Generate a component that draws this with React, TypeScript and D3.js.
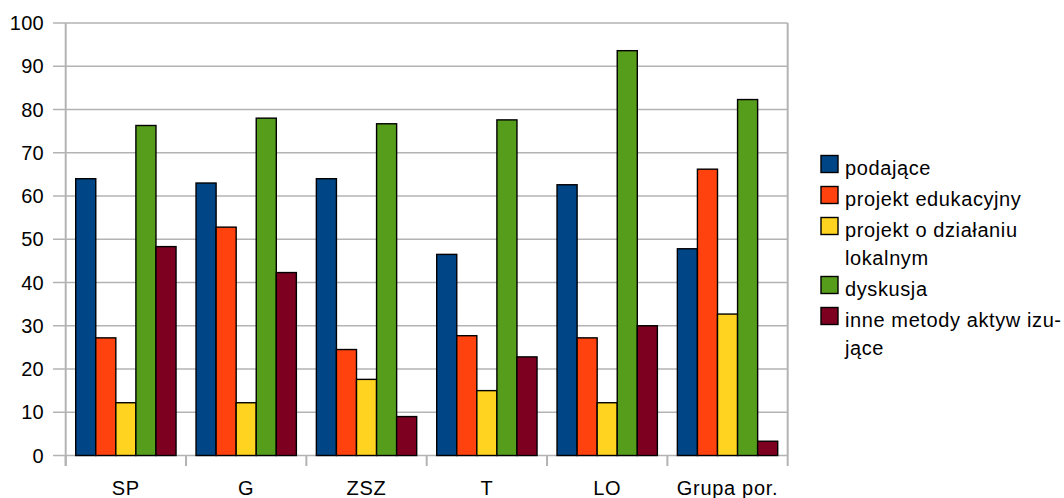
import React from "react";
import * as d3 from "d3";

const categories = ["SP", "G", "ZSZ", "T", "LO", "Grupa por."];
const seriesNames = [
  ["podające"],
  ["projekt edukacyjny"],
  ["projekt o działaniu", "lokalnym"],
  ["dyskusja"],
  ["inne metody aktyw izu-", "jące"],
];
const podajace = [64, 63, 64, 46.5, 62.6, 47.8];
const projektEdu = [27.2, 52.8, 24.5, 27.7, 27.2, 66.2];
const projektLok = [12.2, 12.2, 17.6, 15, 12.2, 32.7];
const dyskusja = [76.3, 78, 76.7, 77.6, 93.6, 82.3];
const inne = [48.3, 42.3, 9, 22.8, 30, 3.3];
const yTicks = [0, 10, 20, 30, 40, 50, 60, 70, 80, 90, 100];
const colors = ["#004586", "#ff420e", "#ffd320", "#579d1c", "#7e0021"];

const seriesValues = [podajace, projektEdu, projektLok, dyskusja, inne];

export default function App() {
  const W = 1064, H = 498;
  const left = 65.7, right = 787.7, top = 23, bottom = 455.5;
  const font = "Liberation Sans";
  const x0 = d3.scaleBand<string>().domain(categories).range([left, right]).padding(0);
  const x1 = d3.scaleBand<number>().domain(d3.range(seriesValues.length)).range([10, x0.bandwidth() - 10]).padding(0);
  const y = d3.scaleLinear().domain([0, 100]).range([bottom, top]);
  const grid = "#b3b3b3";

  let ly = 175;
  const legendItems: { lines: string[]; baseline: number; i: number }[] = [];
  seriesNames.forEach((lines, i) => {
    legendItems.push({ lines, baseline: ly, i });
    ly += 31 + (lines.length - 1) * 28;
  });

  return (
    <svg width={W} height={H} style={{ position: "absolute", left: 0, top: 0, fontFamily: font }}>
      <rect width={W} height={H} fill="#fff" />
      {yTicks.map((t) => (
        <g key={t}>
          <line x1={53} x2={right} y1={y(t)} y2={y(t)} stroke={grid} strokeWidth={1.6} />
          <text x={44} y={y(t)} dy="0.36em" textAnchor="end" fontSize={20} letterSpacing={0.3} fill="#000">{t}</text>
        </g>
      ))}
      <line x1={left} x2={left} y1={top} y2={466} stroke={grid} strokeWidth={2} />
      <line x1={right} x2={right} y1={top} y2={466} stroke={grid} strokeWidth={2} />
      {categories.map((c, ci) => (
        <line key={"t" + ci} x1={x0(c)!} x2={x0(c)!} y1={bottom} y2={466} stroke={grid} strokeWidth={2} />
      ))}
      {categories.map((c, ci) => (
        <g key={c}>
          {seriesValues.map((vals, si) => (
            <rect
              key={si}
              x={x0(c)! + x1(si)!}
              y={y(vals[ci])}
              width={x1.bandwidth()}
              height={bottom - y(vals[ci])}
              fill={colors[si]}
              stroke="#000"
              strokeWidth={1.4}
            />
          ))}
          <text x={x0(c)! + x0.bandwidth() / 2} y={495} textAnchor="middle" fontSize={20} letterSpacing={0.7} fill="#000">{c}</text>
        </g>
      ))}
      {legendItems.map((it) => (
        <g key={it.i}>
          <rect x={821} y={it.baseline - 19.5} width={17} height={17} fill={colors[it.i]} stroke="#000" strokeWidth={1.4} />
          {it.lines.map((l, li) => (
            <text key={li} x={845} y={it.baseline + li * 28} fontSize={20} letterSpacing={0.6} fill="#000">{l}</text>
          ))}
        </g>
      ))}
    </svg>
  );
}
